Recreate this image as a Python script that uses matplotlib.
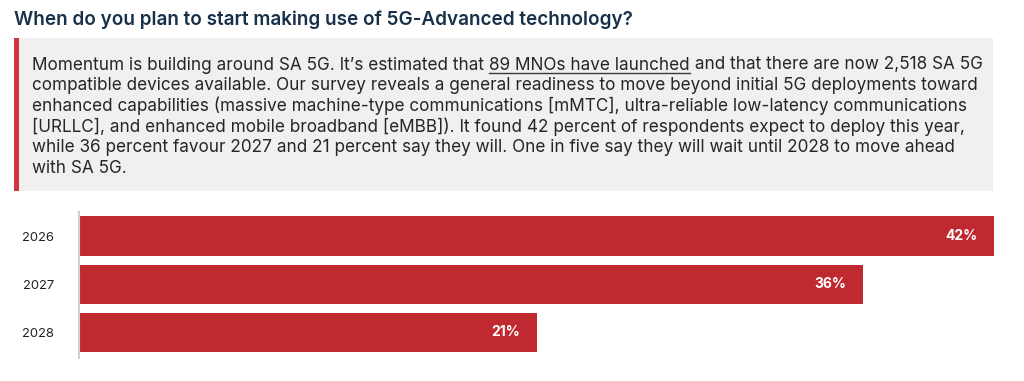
import matplotlib
matplotlib.use("Agg")
import matplotlib.pyplot as plt
from matplotlib.patches import Rectangle
from matplotlib.lines import Line2D

W, H = 1024, 381
categories = ["2026", "2027", "2028"]
values = [42, 36, 21]
labels = ["42%", "36%", "21%"]

title = "When do you plan to start making use of 5G-Advanced technology?"
body_lines = [
    ("Momentum is building around SA 5G. It\u2019s estimated that ", "89 MNOs have launched",
     " and that there are now 2,518 SA 5G"),
    "compatible devices available. Our survey reveals a general readiness to move beyond initial 5G deployments toward",
    "enhanced capabilities (massive machine-type communications [mMTC], ultra-reliable low-latency communications",
    "[URLLC], and enhanced mobile broadband [eMBB]). It found 42 percent of respondents expect to deploy this year,",
    "while 36 percent favour 2027 and 21 percent say they will. One in five say they will wait until 2028 to move ahead",
    "with SA 5G.",
]

plt.rcParams['font.family'] = ['Inter', 'DejaVu Sans']

fig = plt.figure(figsize=(W / 100, H / 100), dpi=100)
fig.patch.set_facecolor("white")

def fx(x):
    return x / W

def fy(y):
    return 1 - y / H

# title
fig.text(fx(14), fy(25), title, fontsize=13.6, fontweight="semibold",
         color="#18304a", va="baseline", ha="left")

# gray box with red left border
fig.patches.append(Rectangle((fx(14), fy(191)), fx(993) - fx(14), fy(38) - fy(191),
                             transform=fig.transFigure, facecolor="#f0f0f0", edgecolor="none", zorder=0))
fig.patches.append(Rectangle((fx(14), fy(191)), fx(18.5) - fx(14), fy(38) - fy(191),
                             transform=fig.transFigure, facecolor="#d2343b", edgecolor="none", zorder=1))

fs_body = 12.35
body_color = "#262626"
renderer = fig.canvas.get_renderer()
for i, line in enumerate(body_lines):
    yb = 69.5 + 20.7 * i
    if isinstance(line, tuple):
        x = fx(32)
        for j, part in enumerate(line):
            t = fig.text(x, fy(yb), part, fontsize=fs_body, color=body_color,
                         va="baseline", ha="left")
            bb = t.get_window_extent(renderer=renderer)
            x0 = x
            x = x + bb.width / W
            if j == 1:
                fig.lines.append(Line2D([x0, x], [fy(yb + 3), fy(yb + 3)],
                                        transform=fig.transFigure, color="#3a3a3a", lw=1.0))
    else:
        fig.text(fx(32), fy(yb), line, fontsize=fs_body, color=body_color,
                 va="baseline", ha="left")

# bar chart
ax = fig.add_axes([fx(79), fy(358), fx(994) - fx(79), fy(212) - fy(358)])
ypos = list(range(len(categories)))
ax.barh(ypos, values, height=0.82, color="#c0292f", edgecolor="none")
ax.set_xlim(0, 42)
ax.set_ylim(2.53, -0.5)
ax.set_yticks(ypos)
ax.set_yticklabels(categories, fontsize=9.4, color="#222222")
ax.tick_params(axis="y", length=0, pad=18)
ax.set_xticks([])
for s in ["top", "right", "bottom"]:
    ax.spines[s].set_visible(False)
ax.spines["left"].set_color("#cfcfcf")
ax.spines["left"].set_linewidth(1.5)
ax.set_facecolor("none")
for yv, v, lab in zip(ypos, values, labels):
    ax.annotate(lab, xy=(v, yv), xytext=(-17, 0), textcoords="offset pixels",
                ha="right", va="center", color="white", fontsize=10, fontweight="bold")

fig.savefig("out.png", dpi=100, facecolor="white")
